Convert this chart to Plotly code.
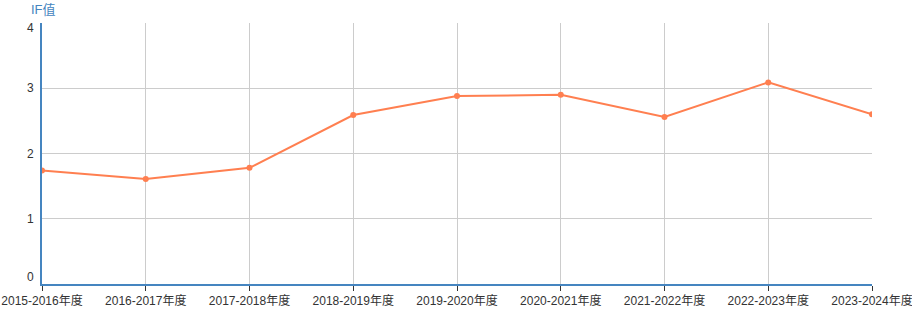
import plotly.graph_objects as go

categories = ["2015-2016年度", "2016-2017年度", "2017-2018年度", "2018-2019年度",
              "2019-2020年度", "2020-2021年度", "2021-2022年度", "2022-2023年度",
              "2023-2024年度"]
if_values = [1.74, 1.61, 1.78, 2.59, 2.88, 2.90, 2.56, 3.09, 2.60]
y_ticks = [0, 1, 2, 3, 4]
y_shift = {0: 7, 4: -5}

FONT = "Liberation Sans, Arial, Noto Sans CJK SC, sans-serif"
AXIS_BLUE = "#4585c0"
LINE = "#ff7f50"

fig = go.Figure()
fig.add_trace(go.Scatter(
    x=list(range(len(categories))), y=if_values, mode="lines+markers",
    line=dict(color=LINE, width=2),
    marker=dict(color=LINE, size=6),
    showlegend=False,
))

annotations = []
for v in y_ticks:
    annotations.append(dict(
        x=0, xref="paper", y=v, yref="y", text=str(v), showarrow=False,
        xanchor="right", yanchor="middle", xshift=-6, yshift=y_shift.get(v, 0),
        font=dict(family=FONT, size=12, color="#333"),
    ))
annotations.append(dict(
    x=0, xref="paper", y=1, yref="paper", text="IF值", showarrow=False,
    xanchor="left", yanchor="bottom", xshift=-13, yshift=4,
    font=dict(family=FONT, size=13, color=AXIS_BLUE),
))

fig.update_layout(
    width=912, height=324,
    margin=dict(l=42, r=40, t=23, b=40, autoexpand=False),
    paper_bgcolor="white", plot_bgcolor="white",
    font=dict(family=FONT, size=12, color="#333"),
    annotations=annotations,
    xaxis=dict(
        range=[0, len(categories) - 1],
        tickmode="array", tickvals=list(range(len(categories))), ticktext=categories,
        showgrid=True, gridcolor="#cccccc", gridwidth=1,
        showline=True, linecolor=AXIS_BLUE, linewidth=2,
        ticks="outside", ticklen=5, tickcolor="#333", tickwidth=1,
        tickfont=dict(family=FONT, size=12, color="#333"),
        ticklabeloverflow="allow", automargin=False,
        zeroline=False, fixedrange=True,
    ),
    yaxis=dict(
        range=[0, 4], tickvals=y_ticks, showticklabels=False,
        showgrid=True, gridcolor="#cccccc", gridwidth=1,
        showline=True, linecolor=AXIS_BLUE, linewidth=2,
        zeroline=False, ticks="", fixedrange=True, automargin=False,
    ),
)

fig.write_html("out.html")
